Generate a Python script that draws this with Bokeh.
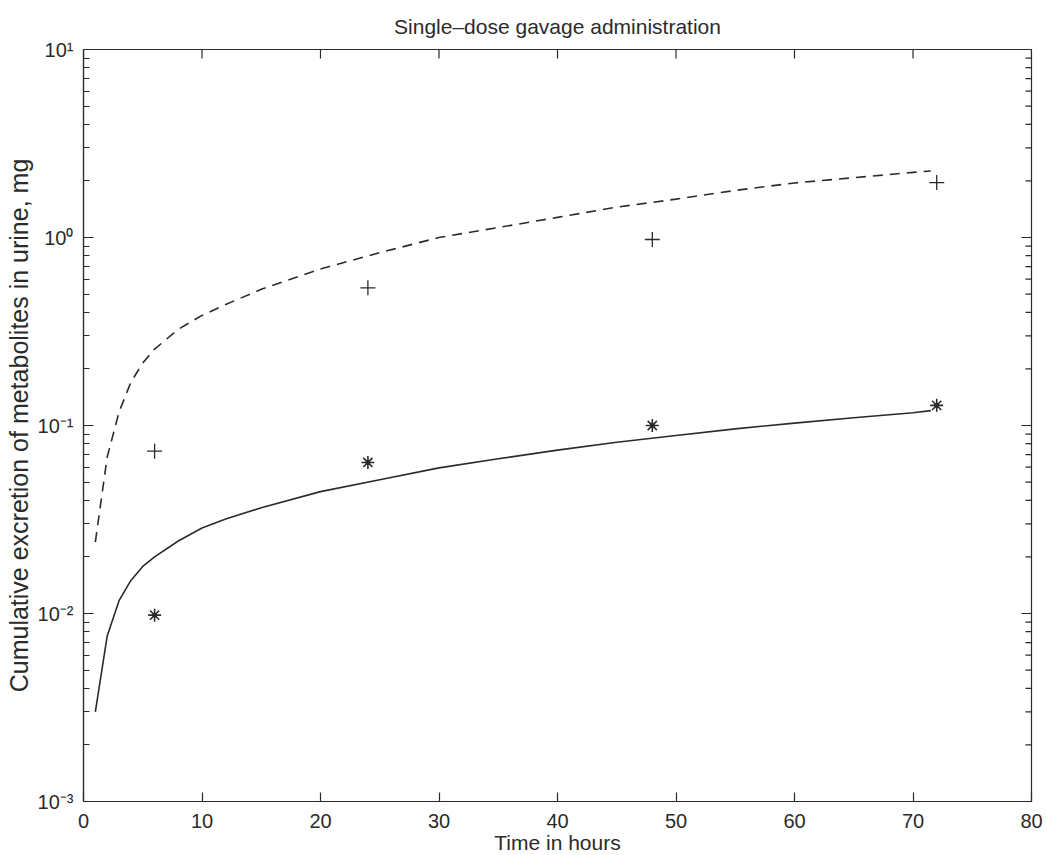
import math
from bokeh.plotting import figure
from bokeh.models import FixedTicker, CustomJSTickFormatter, Range1d
from bokeh.embed import file_html
from bokeh.resources import INLINE

# model curves (hours, mg)
t_model = [1, 2, 3, 4, 5, 6, 8, 10, 12, 15, 20, 25, 30, 35, 40, 45, 50, 55, 60, 65, 70, 71.5]
solid_model = [0.0030, 0.0076, 0.0117, 0.0150, 0.0178, 0.0200, 0.0243, 0.0285, 0.0318, 0.0365,
               0.0445, 0.0515, 0.0595, 0.0665, 0.0740, 0.0815, 0.0885, 0.0960, 0.1030, 0.1100,
               0.1170, 0.1200]
dashed_model = [0.024, 0.068, 0.118, 0.170, 0.215, 0.255, 0.325, 0.385, 0.440, 0.530,
                0.680, 0.830, 1.000, 1.130, 1.280, 1.450, 1.600, 1.780, 1.950, 2.080,
                2.220, 2.260]

# observations
t_obs = [6, 24, 48, 72]
plus_obs = [0.073, 0.54, 0.976, 1.96]
star_obs = [0.0098, 0.0636, 0.100, 0.128]

x_ticks = [0, 10, 20, 30, 40, 50, 60, 70, 80]
y_ticks = [1e-3, 1e-2, 1e-1, 1, 10]
y_minor = [k * 10.0 ** e for e in range(-3, 1) for k in range(2, 10)]
x_lim = (0, 80)
y_lim = (1e-3, 10)

FONT = "Liberation Sans"
INK = "#2b2b2b"

p = figure(frame_width=948, frame_height=752, y_axis_type="log",
           x_range=Range1d(*x_lim), y_range=Range1d(*y_lim),
           output_backend="svg", toolbar_location=None,
           min_border_left=83, min_border_right=16, min_border_top=49, min_border_bottom=40,
           title="Single\u2013dose gavage administration")
p.title.align = "center"
p.title.text_font = FONT
p.title.text_font_size = "21px"
p.title.text_font_style = "normal"
p.title.text_color = INK
p.title.standoff = 23
p.grid.visible = False
p.outline_line_color = INK
p.outline_line_width = 1.2
p.background_fill_color = "white"
p.border_fill_color = "white"

sup = CustomJSTickFormatter(code="""
const m = {'-':'\u207b','0':'\u2070','1':'\u00b9','2':'\u00b2','3':'\u00b3'};
const e = Math.round(Math.log10(tick));
return '10' + String(e).split('').map(c => m[c]).join('');
""")

def style(ax):
    ax.axis_line_color = INK
    ax.axis_line_width = 1.2
    ax.major_tick_line_color = INK
    ax.minor_tick_line_color = INK
    ax.major_tick_line_width = 1.2
    ax.minor_tick_line_width = 1.2
    ax.major_tick_out = 0
    ax.minor_tick_out = 0
    ax.major_label_text_font = FONT
    ax.major_label_text_font_size = "20px"
    ax.major_label_text_color = INK
    ax.axis_label_text_font = FONT
    ax.axis_label_text_font_style = "normal"
    ax.axis_label_text_color = INK

yl = p.yaxis[0]
yl.ticker = FixedTicker(ticks=y_ticks, minor_ticks=y_minor)
yl.formatter = sup
style(yl)
yl.major_tick_in = 10
yl.minor_tick_in = 6
yl.major_label_standoff = 10
yl.axis_label = "Cumulative excretion of metabolites in urine, mg"
yl.axis_label_text_font_size = "25px"
yl.axis_label_standoff = 2

xb = p.xaxis[0]
xb.ticker = FixedTicker(ticks=x_ticks)
style(xb)
xb.major_tick_in = 9
xb.minor_tick_in = 0
xb.major_label_standoff = 12
xb.axis_label = "Time in hours"
xb.axis_label_text_font_size = "21px"
xb.axis_label_standoff = 0

# ticks on the right and top edges of the frame (half of each dash is clipped by the frame)
p.scatter([x_lim[1]] * len(y_ticks), y_ticks, marker="dash", size=20,
          line_color=INK, line_width=1.2)
p.scatter([x_lim[1]] * len(y_minor), y_minor, marker="dash", size=12,
          line_color=INK, line_width=1.2)
p.scatter(x_ticks, [y_lim[1]] * len(x_ticks), marker="dash", angle=math.pi / 2, size=18,
          line_color=INK, line_width=1.2)

p.line(t_model, solid_model, line_color=INK, line_width=1.6)
p.line(t_model, dashed_model, line_color=INK, line_width=1.6, line_dash="10 7")
p.scatter(t_obs, plus_obs, marker="cross", size=15, line_color=INK, line_width=1.3)
p.scatter(t_obs, star_obs, marker="asterisk", size=13, line_color=INK, line_width=1.6)
p.scatter(t_obs, star_obs, marker="circle", size=4, line_color=INK, fill_color=INK)

open("out.html", "w").write(file_html(p, INLINE))
